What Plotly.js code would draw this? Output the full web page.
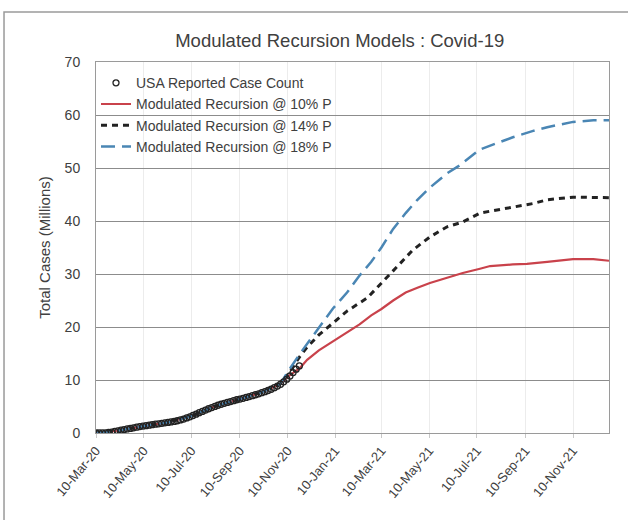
<!DOCTYPE html>
<html>
<head>
<meta charset="utf-8">
<script src="https://cdn.plot.ly/plotly-3.0.1.min.js"></script>
<style>
  html, body { margin: 0; padding: 0; background: #ffffff; }
  #chart { width: 628px; height: 520px; }
</style>
</head>
<body>
<div id="chart"></div>
<script>
// ---- Reported case counts (millions) ----
const reportedDates = [
  "2020-03-10","2020-03-14","2020-03-18","2020-03-22","2020-03-26","2020-03-30",
  "2020-04-03","2020-04-07","2020-04-11","2020-04-15","2020-04-19","2020-04-23",
  "2020-04-27","2020-05-01","2020-05-05","2020-05-09","2020-05-13","2020-05-17",
  "2020-05-21","2020-05-25","2020-05-29","2020-06-02","2020-06-06","2020-06-10",
  "2020-06-14","2020-06-18","2020-06-22","2020-06-26","2020-06-30","2020-07-04",
  "2020-07-08","2020-07-12","2020-07-16","2020-07-20","2020-07-24","2020-07-28",
  "2020-08-01","2020-08-05","2020-08-09","2020-08-13","2020-08-17","2020-08-21",
  "2020-08-25","2020-08-29","2020-09-02","2020-09-06","2020-09-10","2020-09-14",
  "2020-09-18","2020-09-22","2020-09-26","2020-09-30","2020-10-04","2020-10-08",
  "2020-10-12","2020-10-16","2020-10-20","2020-10-24","2020-10-28","2020-11-01",
  "2020-11-05","2020-11-09","2020-11-13","2020-11-17","2020-11-21","2020-11-25"
];
const reportedCases = [
  0.00, 0.01, 0.01, 0.04, 0.09, 0.16,
  0.28, 0.40, 0.53, 0.64, 0.76, 0.87,
  0.98, 1.09, 1.21, 1.31, 1.39, 1.48,
  1.57, 1.66, 1.74, 1.83, 1.92, 2.00,
  2.09, 2.19, 2.31, 2.46, 2.63, 2.84,
  3.05, 3.30, 3.55, 3.83, 4.08, 4.33,
  4.58, 4.80, 5.02, 5.24, 5.42, 5.60,
  5.76, 5.93, 6.10, 6.27, 6.40, 6.55,
  6.72, 6.87, 7.05, 7.22, 7.40, 7.60,
  7.80, 8.02, 8.25, 8.55, 8.85, 9.20,
  9.65, 10.15, 10.75, 11.40, 12.05, 12.65
];

// ---- Model curves (millions) ----
const earlyDates = ["2020-03-10","2020-04-10","2020-05-10","2020-06-10","2020-07-10","2020-08-10","2020-09-10","2020-10-10","2020-11-01"];
const earlyValues = [0.0, 0.5, 1.3, 2.0, 3.2, 5.1, 6.4, 7.8, 9.3];

const model10Dates = earlyDates.concat([
  "2020-11-10","2020-11-26","2020-12-05","2020-12-20","2021-01-07","2021-01-25",
  "2021-02-10","2021-02-25","2021-03-10","2021-03-25","2021-04-10","2021-04-25",
  "2021-05-11","2021-06-02","2021-06-22","2021-07-14","2021-07-27","2021-08-25",
  "2021-09-12","2021-10-08","2021-11-10","2021-12-06","2021-12-26"]);
const model10Values = earlyValues.concat([
  10.6, 12.3, 13.8, 15.6, 17.3, 19.0,
  20.5, 22.2, 23.4, 25.0, 26.5, 27.4,
  28.3, 29.3, 30.2, 31.0, 31.5, 31.8,
  31.9, 32.3, 32.8, 32.8, 32.5]);

const model14Dates = earlyDates.concat([
  "2020-11-10","2020-11-26","2020-12-05","2020-12-20","2021-01-07","2021-01-25",
  "2021-02-20","2021-03-10","2021-04-03","2021-04-19","2021-05-11","2021-06-02",
  "2021-06-22","2021-07-14","2021-08-10","2021-08-25","2021-09-20","2021-10-08",
  "2021-11-10","2021-12-26"]);
const model14Values = earlyValues.concat([
  11.0, 14.5, 16.2, 18.5, 20.8, 23.0,
  25.5, 28.2, 32.0, 34.5, 37.0, 38.9,
  39.8, 41.5, 42.2, 42.6, 43.3, 44.0,
  44.5, 44.4]);

const model18Dates = earlyDates.concat([
  "2020-11-10","2020-11-26","2020-12-10","2020-12-25","2021-01-07","2021-01-25",
  "2021-02-10","2021-02-25","2021-03-10","2021-03-25","2021-04-10","2021-04-25",
  "2021-05-11","2021-06-02","2021-06-16","2021-07-14","2021-08-10","2021-08-25",
  "2021-09-20","2021-10-08","2021-11-10","2021-12-06","2021-12-26"]);
const model18Values = earlyValues.concat([
  11.5, 15.0, 17.8, 20.8, 23.5, 26.5,
  29.7, 32.3, 35.0, 38.5, 41.5, 44.0,
  46.3, 49.0, 50.3, 53.5, 55.0, 55.8,
  57.0, 57.7, 58.7, 59.0, 59.0]);

const seriesNames = [
  "USA Reported Case Count",
  "Modulated Recursion @ 10% P",
  "Modulated Recursion @ 14% P",
  "Modulated Recursion @ 18% P"
];

// ---- Axis ticks ----
const tickDates = ["2020-03-10","2020-05-10","2020-07-10","2020-09-10","2020-11-10","2021-01-10",
                   "2021-03-10","2021-05-10","2021-07-10","2021-09-10","2021-11-10"];
const tickLabels = ["10-Mar-20","10-May-20","10-Jul-20","10-Sep-20","10-Nov-20","10-Jan-21",
                    "10-Mar-21","10-May-21","10-Jul-21","10-Sep-21","10-Nov-21"];
const yTicks = [0, 10, 20, 30, 40, 50, 60, 70];

const traces = [
  { x: model10Dates, y: model10Values, name: seriesNames[1], type: "scatter", mode: "lines",
    line: { color: "#c9424b", width: 2.2 }, legendrank: 2 },
  { x: model14Dates, y: model14Values, name: seriesNames[2], type: "scatter", mode: "lines",
    line: { color: "#222222", width: 3, dash: "6px,5px" }, legendrank: 3 },
  { x: model18Dates, y: model18Values, name: seriesNames[3], type: "scatter", mode: "lines",
    line: { color: "#4a86b4", width: 2.5, dash: "14px,7px" }, legendrank: 4 },
  { x: reportedDates, y: reportedCases, name: seriesNames[0], type: "scatter", mode: "markers",
    marker: { symbol: "circle-open", size: 6, color: "#222222", line: { width: 1.3, color: "#222222" } },
    legendrank: 1 }
];

const layout = {
  width: 628, height: 520,
  paper_bgcolor: "#ffffff", plot_bgcolor: "#ffffff",
  margin: { l: 96, r: 19, t: 62, b: 87 },
  font: { family: "Liberation Sans, Arial, sans-serif", color: "#404040", size: 13 },
  title: { text: "Modulated Recursion Models : Covid-19", font: { size: 18.5, color: "#404040" },
           xref: "container", x: 0.541, xanchor: "center", yref: "container", y: 0.923, yanchor: "middle" },
  showlegend: true,
  legend: { x: 0.0, y: 0.986, xanchor: "left", yanchor: "top", bgcolor: "rgba(0,0,0,0)",
            font: { size: 14, color: "#404040" }, tracegroupgap: 0 },
  xaxis: {
    type: "date",
    range: ["2020-03-10", "2021-12-26"],
    tickvals: tickDates, ticktext: tickLabels, tickangle: -50,
    tickfont: { size: 13, color: "#404040" },
    showgrid: true, gridcolor: "#ececec", gridwidth: 1,
    showline: true, linecolor: "#9a9a9a", linewidth: 1, mirror: true,
    ticks: "outside", ticklen: 4, tickcolor: "#c8c8c8",
    zeroline: false
  },
  yaxis: {
    range: [0, 70], tickvals: yTicks,
    tickfont: { size: 14, color: "#404040" },
    title: { text: "Total Cases (Millions)", font: { size: 15, color: "#404040" }, standoff: 10 },
    showgrid: true, gridcolor: "#8c8c8c", gridwidth: 1,
    showline: true, linecolor: "#9a9a9a", linewidth: 1, mirror: true,
    ticks: "", ticklabelstandoff: 12,
    zeroline: false
  },
  shapes: [
    { type: "rect", xref: "paper", yref: "paper", x0: -0.1793, x1: 1.1, y0: -0.3, y1: 1.1348,
      line: { color: "#9a9a9a", width: 1.5 }, fillcolor: "rgba(0,0,0,0)", layer: "below" }
  ]
};

Plotly.newPlot("chart", traces, layout, { displayModeBar: false, staticPlot: true });
</script>
</body>
</html>
